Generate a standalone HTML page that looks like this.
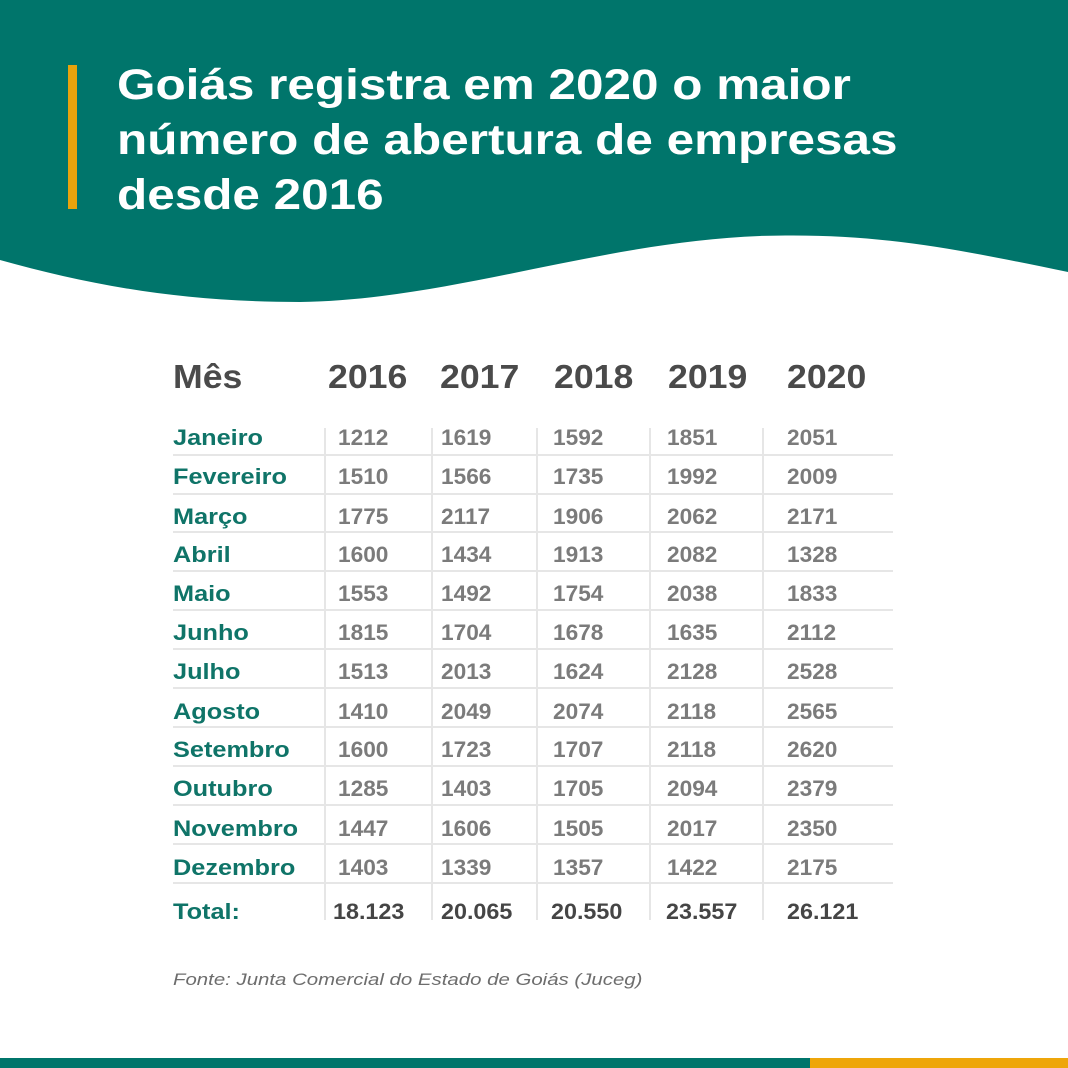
<!DOCTYPE html>
<html><head><meta charset="utf-8"><style>
*{margin:0;padding:0}
body{width:1068px;height:1068px;position:relative;background:#fff;overflow:hidden;font-family:"Liberation Sans",sans-serif}
.t{position:absolute;white-space:nowrap;line-height:30px;height:30px;transform-origin:left center}
.m{color:#0f7468;font-weight:bold;font-size:22px;left:173px;transform:scaleX(1.15)}
.n{color:#7b7b7b;font-weight:bold;font-size:22px;transform:scaleX(1.03)}
.h{color:#4a4a4a;font-weight:bold;font-size:33px;line-height:40px;height:40px;top:357px;transform:scaleX(1.08)}
.tot{color:#454545;font-weight:bold;font-size:22px;top:897px;transform:scaleX(1.06)}
.hl{position:absolute;left:173px;width:720px;height:2px;background:#e6e6e6}
.vl{position:absolute;top:428px;height:492px;width:2px;background:#e6e6e6}
</style></head><body>
<svg width="1068" height="320" style="position:absolute;left:0;top:0">
<path d="M0,0 H1068 V272 C960,250 880,232 760,236 C600,242 450,300 300,302 C180,302 90,285 0,260 Z" fill="#00756b"/>
</svg>
<div style="position:absolute;left:68px;top:65px;width:9px;height:144px;background:#e8a30c"></div>
<div style="position:absolute;left:117px;top:58px;color:#fff;font-weight:bold;font-size:43px;line-height:55px;white-space:nowrap;transform:scaleX(1.15);transform-origin:left top">Goiás registra em 2020 o maior<br>número de abertura de empresas<br>desde 2016</div>

<div class="t h" style="left:173px">Mês</div>
<div class="t h" style="left:328px">2016</div>
<div class="t h" style="left:440px">2017</div>
<div class="t h" style="left:554px">2018</div>
<div class="t h" style="left:668px">2019</div>
<div class="t h" style="left:787px">2020</div>

<div class="hl" style="top:454px"></div><div class="hl" style="top:493px"></div><div class="hl" style="top:531px"></div><div class="hl" style="top:570px"></div><div class="hl" style="top:609px"></div><div class="hl" style="top:648px"></div><div class="hl" style="top:687px"></div><div class="hl" style="top:726px"></div><div class="hl" style="top:765px"></div><div class="hl" style="top:804px"></div><div class="hl" style="top:843px"></div><div class="hl" style="top:882px"></div>
<div class="vl" style="left:324px"></div><div class="vl" style="left:431px"></div><div class="vl" style="left:536px"></div><div class="vl" style="left:649px"></div><div class="vl" style="left:762px"></div>

<div class="t m" style="top:423px">Janeiro</div><div class="t n" style="top:423px;left:338px">1212</div><div class="t n" style="top:423px;left:441px">1619</div><div class="t n" style="top:423px;left:553px">1592</div><div class="t n" style="top:423px;left:667px">1851</div><div class="t n" style="top:423px;left:787px">2051</div>
<div class="t m" style="top:462px">Fevereiro</div><div class="t n" style="top:462px;left:338px">1510</div><div class="t n" style="top:462px;left:441px">1566</div><div class="t n" style="top:462px;left:553px">1735</div><div class="t n" style="top:462px;left:667px">1992</div><div class="t n" style="top:462px;left:787px">2009</div>
<div class="t m" style="top:502px">Março</div><div class="t n" style="top:502px;left:338px">1775</div><div class="t n" style="top:502px;left:441px">2117</div><div class="t n" style="top:502px;left:553px">1906</div><div class="t n" style="top:502px;left:667px">2062</div><div class="t n" style="top:502px;left:787px">2171</div>
<div class="t m" style="top:540px">Abril</div><div class="t n" style="top:540px;left:338px">1600</div><div class="t n" style="top:540px;left:441px">1434</div><div class="t n" style="top:540px;left:553px">1913</div><div class="t n" style="top:540px;left:667px">2082</div><div class="t n" style="top:540px;left:787px">1328</div>
<div class="t m" style="top:579px">Maio</div><div class="t n" style="top:579px;left:338px">1553</div><div class="t n" style="top:579px;left:441px">1492</div><div class="t n" style="top:579px;left:553px">1754</div><div class="t n" style="top:579px;left:667px">2038</div><div class="t n" style="top:579px;left:787px">1833</div>
<div class="t m" style="top:618px">Junho</div><div class="t n" style="top:618px;left:338px">1815</div><div class="t n" style="top:618px;left:441px">1704</div><div class="t n" style="top:618px;left:553px">1678</div><div class="t n" style="top:618px;left:667px">1635</div><div class="t n" style="top:618px;left:787px">2112</div>
<div class="t m" style="top:657px">Julho</div><div class="t n" style="top:657px;left:338px">1513</div><div class="t n" style="top:657px;left:441px">2013</div><div class="t n" style="top:657px;left:553px">1624</div><div class="t n" style="top:657px;left:667px">2128</div><div class="t n" style="top:657px;left:787px">2528</div>
<div class="t m" style="top:697px">Agosto</div><div class="t n" style="top:697px;left:338px">1410</div><div class="t n" style="top:697px;left:441px">2049</div><div class="t n" style="top:697px;left:553px">2074</div><div class="t n" style="top:697px;left:667px">2118</div><div class="t n" style="top:697px;left:787px">2565</div>
<div class="t m" style="top:735px">Setembro</div><div class="t n" style="top:735px;left:338px">1600</div><div class="t n" style="top:735px;left:441px">1723</div><div class="t n" style="top:735px;left:553px">1707</div><div class="t n" style="top:735px;left:667px">2118</div><div class="t n" style="top:735px;left:787px">2620</div>
<div class="t m" style="top:774px">Outubro</div><div class="t n" style="top:774px;left:338px">1285</div><div class="t n" style="top:774px;left:441px">1403</div><div class="t n" style="top:774px;left:553px">1705</div><div class="t n" style="top:774px;left:667px">2094</div><div class="t n" style="top:774px;left:787px">2379</div>
<div class="t m" style="top:814px">Novembro</div><div class="t n" style="top:814px;left:338px">1447</div><div class="t n" style="top:814px;left:441px">1606</div><div class="t n" style="top:814px;left:553px">1505</div><div class="t n" style="top:814px;left:667px">2017</div><div class="t n" style="top:814px;left:787px">2350</div>
<div class="t m" style="top:853px">Dezembro</div><div class="t n" style="top:853px;left:338px">1403</div><div class="t n" style="top:853px;left:441px">1339</div><div class="t n" style="top:853px;left:553px">1357</div><div class="t n" style="top:853px;left:667px">1422</div><div class="t n" style="top:853px;left:787px">2175</div>

<div class="t m" style="top:897px">Total:</div>
<div class="t tot" style="left:333px">18.123</div><div class="t tot" style="left:441px">20.065</div><div class="t tot" style="left:551px">20.550</div><div class="t tot" style="left:666px">23.557</div><div class="t tot" style="left:787px">26.121</div>

<div class="t" style="left:173px;top:965px;color:#6d6d6d;font-style:italic;font-size:17px;transform:scaleX(1.2)">Fonte: Junta Comercial do Estado de Goiás (Juceg)</div>

<div style="position:absolute;left:0;top:1058px;width:810px;height:10px;background:#00756b"></div>
<div style="position:absolute;left:810px;top:1058px;width:258px;height:10px;background:#eea60a"></div>
</body></html>
